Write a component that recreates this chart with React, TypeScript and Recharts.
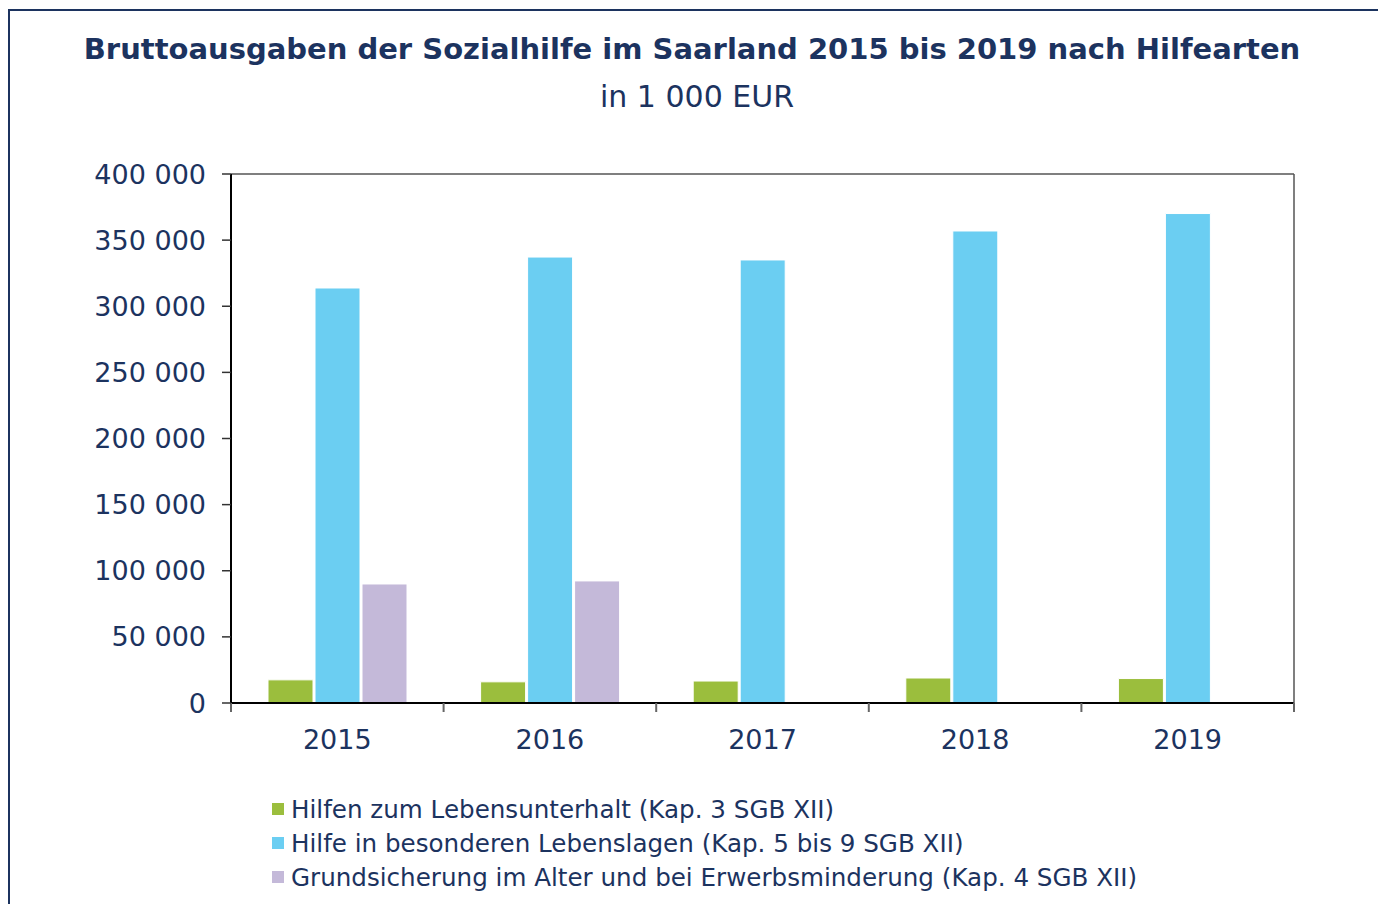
import React from "react";
import { ComposedChart, Bar, Line, XAxis, YAxis, Legend } from "recharts";

const years = ["2015", "2016", "2017", "2018", "2019"];
const hlu = [17500, 16000, 16600, 18900, 18500];
const hbl = [313800, 337200, 335000, 356900, 370100];
const grusi = [90000, 92300, null, null, null];
const yTicks = [0, 50000, 100000, 150000, 200000, 250000, 300000, 350000, 400000];
const boundaryTicks = [0, 1, 2, 3, 4, 5];

const seriesNames = [
  "Hilfen zum Lebensunterhalt (Kap. 3 SGB XII)",
  "Hilfe in besonderen Lebenslagen (Kap. 5 bis 9 SGB XII)",
  "Grundsicherung im Alter und bei Erwerbsminderung (Kap. 4 SGB XII)",
];
const seriesKeys = ["hlu", "hbl", "grusi"];
const seriesColors = ["#9BBE3D", "#6BCEF2", "#C4B9D9"];

const data = years.map((y, i) => ({ year: y, pos: i + 0.5, hlu: hlu[i], hbl: hbl[i], grusi: grusi[i] }));

const NAVY = "#1C335F";
const FONT = "'DejaVu Sans', Verdana, sans-serif";

const fmt = (v: number) => String(v).replace(/\B(?=(\d{3})+(?!\d))/g, " ");

const LegendContent = () => (
  <div style={{ fontFamily: FONT, fontSize: 24.6, color: NAVY }}>
    {seriesNames.map((n, i) => (
      <div key={n} style={{ display: "flex", alignItems: "center", height: 34 }}>
        <span style={{ display: "inline-block", width: 12, height: 12, background: seriesColors[i], marginRight: 7 }} />
        <span>{n}</span>
      </div>
    ))}
  </div>
);

export default function App() {
  return (
    <div style={{ position: "absolute", left: 0, top: 0, width: 1378, height: 904, overflow: "hidden", background: "#fff" }}>
      <div style={{ position: "absolute", left: 8, top: 9, width: 1500, height: 1200, border: `2px solid ${NAVY}`, boxSizing: "border-box" }} />
      <div style={{ position: "absolute", left: 0, width: 1384, top: 32, textAlign: "center", fontFamily: FONT, fontWeight: "bold", fontSize: 29, color: NAVY }}>
        Bruttoausgaben der Sozialhilfe im Saarland 2015 bis 2019 nach Hilfearten
      </div>
      <div style={{ position: "absolute", left: 0, width: 1394, top: 79, textAlign: "center", fontFamily: FONT, fontSize: 30, color: NAVY }}>
        in 1 000 EUR
      </div>
      <div style={{ position: "absolute", left: 0, top: 0 }}>
        <ComposedChart
          width={1378}
          height={904}
          data={data}
          margin={{ top: 173, right: 83, left: 0, bottom: 141 }}
          barSize={45}
          barGap={2}
        >
          <XAxis xAxisId="a" type="number" dataKey="pos" domain={[0, 5]} ticks={boundaryTicks} height={1}
            axisLine={{ stroke: "#000", strokeWidth: 2 }} tickLine={{ stroke: "#666", strokeWidth: 2 }} tickSize={9}
            tickFormatter={() => ""} interval={0} allowDataOverflow />
          <XAxis xAxisId="b" dataKey="year" height={59} axisLine={false} tickLine={false} tickSize={8} tickMargin={18}
            tick={{ fill: NAVY, fontSize: 27, fontFamily: FONT }} />
          <XAxis xAxisId="t" dataKey="year" orientation="top" height={1} tick={false} tickLine={false}
            axisLine={{ stroke: "#555", strokeWidth: 1.5 }} />
          <YAxis yAxisId="l" width={231} domain={[0, 400000]} ticks={yTicks} tickFormatter={fmt}
            axisLine={{ stroke: "#000", strokeWidth: 2 }} tickLine={{ stroke: "#333", strokeWidth: 1.5 }} tickSize={9} tickMargin={16}
            tick={{ fill: NAVY, fontSize: 27, fontFamily: FONT }} interval={0} />
          <YAxis yAxisId="r" orientation="right" width={1} domain={[0, 400000]} tick={false} tickLine={false}
            axisLine={{ stroke: "#555", strokeWidth: 1.5 }} />
          <Legend layout="vertical" align="center" verticalAlign="middle" content={<LegendContent />}
            wrapperStyle={{ position: "absolute", left: 272, top: 792, width: 1000 }} />
          {seriesKeys.map((k, i) => (
            <Bar key={k} dataKey={k} name={seriesNames[i]} xAxisId="b" yAxisId="l" fill={seriesColors[i]}
              stroke="#ffffff" strokeWidth={1} isAnimationActive={false} />
          ))}
          <Line dataKey="hlu" xAxisId="a" yAxisId="l" stroke="none" dot={false} activeDot={false} legendType="none" isAnimationActive={false} />
          <Line dataKey="hlu" xAxisId="t" yAxisId="r" stroke="none" dot={false} activeDot={false} legendType="none" isAnimationActive={false} />
        </ComposedChart>
      </div>
    </div>
  );
}
